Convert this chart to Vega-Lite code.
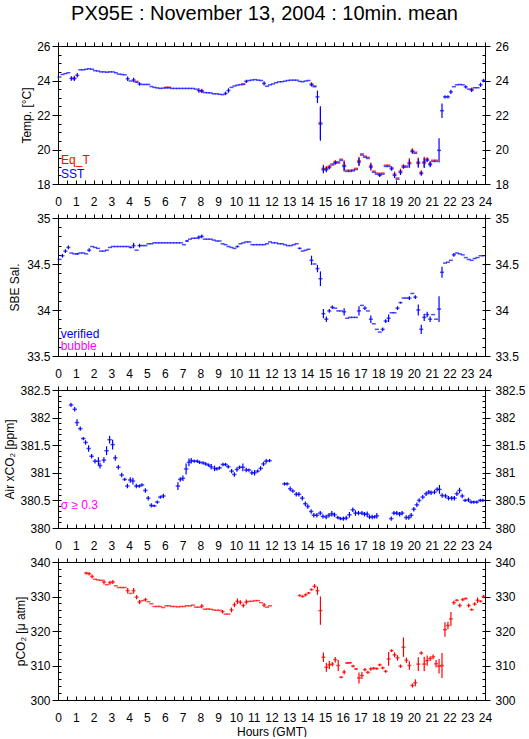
{
"$schema":"https://vega.github.io/schema/vega-lite/v6.json",
"padding":{"left":3,"top":4,"right":2,"bottom":0},
"title":{"text":"PX95E : November 13, 2004 : 10min. mean","font":"Liberation Sans","fontSize":20,"fontWeight":"normal","color":"black","anchor":"middle","offset":16},
"spacing":34,
"bounds":"flush",
"config":{"font":"Liberation Sans","view":{"stroke":null},
 "axis":{"grid":false,"domainColor":"black","tickColor":"black","labelColor":"black","titleColor":"black","labelFont":"Liberation Sans","titleFont":"Liberation Sans","labelFontSize":12,"titleFontSize":12,"titleFontWeight":"normal","labelFlush":false,"labelOverlap":false,"domainWidth":1,"tickWidth":1},
 "text":{"font":"Liberation Sans"}},
"datasets":{
"temp":[
{"t":0.083,"s":24.2,"e":0},{"t":0.25,"s":24.35,"e":0},{"t":0.417,"s":24.4,"e":0},{"t":0.583,"s":24.45,"e":0},
{"t":0.75,"s":24.12,"e":0.13},{"t":0.917,"s":24.1,"q":24.14,"e":0.13},{"t":1.083,"s":24.3,"e":0.13},{"t":1.25,"s":24.62,"e":0},
{"t":1.417,"s":24.62,"e":0},{"t":1.583,"s":24.65,"e":0},{"t":1.75,"s":24.68,"e":0},{"t":1.917,"s":24.65,"e":0},
{"t":2.083,"s":24.57,"e":0},{"t":2.25,"s":24.55,"e":0},{"t":2.417,"s":24.5,"e":0},{"t":2.583,"s":24.5,"e":0},
{"t":2.75,"s":24.48,"e":0},{"t":2.917,"s":24.5,"e":0},{"t":3.083,"s":24.5,"e":0},{"t":3.25,"s":24.45,"e":0},
{"t":3.417,"s":24.37,"e":0},{"t":3.583,"s":24.35,"e":0},{"t":3.75,"s":24.33,"e":0},{"t":3.917,"s":24.1,"e":0.13},
{"t":4.083,"s":23.97,"e":0},{"t":4.25,"s":24.03,"e":0.13},{"t":4.417,"s":23.9,"q":23.95,"e":0},{"t":4.583,"s":23.8,"e":0.1},
{"t":4.75,"s":23.77,"e":0},{"t":4.917,"s":23.77,"e":0},{"t":5.083,"s":23.77,"e":0},{"t":5.25,"s":23.65,"e":0},
{"t":5.417,"s":23.6,"e":0},{"t":5.583,"s":23.57,"e":0},{"t":5.75,"s":23.54,"e":0},{"t":5.917,"s":23.56,"e":0},
{"t":6.083,"s":23.57,"q":23.61,"e":0},{"t":6.25,"s":23.57,"q":23.61,"e":0},{"t":6.417,"s":23.54,"e":0},{"t":6.583,"s":23.54,"e":0},
{"t":6.75,"s":23.54,"e":0},{"t":6.917,"s":23.54,"e":0},{"t":7.083,"s":23.54,"e":0},{"t":7.25,"s":23.54,"e":0},
{"t":7.417,"s":23.54,"e":0},{"t":7.583,"s":23.54,"e":0},{"t":7.75,"s":23.5,"e":0},{"t":7.917,"s":23.42,"e":0.13},
{"t":8.083,"s":23.37,"q":23.42,"e":0.1},{"t":8.25,"s":23.3,"e":0},{"t":8.417,"s":23.29,"e":0},{"t":8.583,"s":23.28,"e":0},
{"t":8.75,"s":23.23,"e":0},{"t":8.917,"s":23.23,"e":0},{"t":9.083,"s":23.2,"e":0},{"t":9.25,"s":23.18,"e":0},
{"t":9.417,"s":23.25,"e":0.1},{"t":9.583,"s":23.42,"e":0.13},{"t":9.75,"s":23.6,"e":0},{"t":9.917,"s":23.68,"e":0},
{"t":10.083,"s":23.73,"e":0},{"t":10.25,"s":23.76,"e":0},{"t":10.417,"s":23.77,"q":23.81,"e":0},{"t":10.583,"s":23.95,"e":0.1},
{"t":10.75,"s":24.0,"e":0},{"t":10.917,"s":24.03,"e":0},{"t":11.083,"s":24.05,"e":0},{"t":11.25,"s":24.02,"e":0},
{"t":11.417,"s":24.0,"e":0},{"t":11.583,"s":23.83,"e":0.12},{"t":11.75,"s":23.67,"e":0},{"t":11.917,"s":23.75,"e":0},
{"t":12.083,"s":23.8,"e":0},{"t":12.25,"s":23.87,"e":0},{"t":12.417,"s":23.92,"e":0},{"t":12.583,"s":23.93,"e":0},
{"t":12.75,"s":23.96,"e":0},{"t":12.917,"s":24.0,"e":0},{"t":13.083,"s":24.02,"e":0},{"t":13.25,"s":24.02,"e":0},
{"t":13.417,"s":24.02,"e":0},{"t":13.583,"s":23.95,"e":0},{"t":13.75,"s":23.93,"e":0},{"t":13.917,"s":23.97,"e":0},
{"t":14.083,"s":24.0,"e":0},{"t":14.25,"s":23.75,"q":23.8,"e":0.1},{"t":14.417,"s":23.64,"q":23.69,"e":0},{"t":14.583,"s":23.05,"e":0.36},
{"t":14.75,"s":21.48,"q":21.55,"e":0.97},{"t":14.917,"s":18.83,"q":18.9,"e":0.21},{"t":15.083,"s":18.83,"q":18.9,"e":0.15},{"t":15.25,"s":18.95,"q":19.02,"e":0.1},
{"t":15.417,"s":19.1,"q":19.17,"e":0},{"t":15.583,"s":19.22,"q":19.29,"e":0.1},{"t":15.75,"s":19.22,"q":19.29,"e":0},{"t":15.917,"s":19.37,"q":19.44,"e":0},
{"t":16.083,"s":19.02,"q":19.09,"e":0.29},{"t":16.25,"s":18.73,"q":18.8,"e":0},{"t":16.417,"s":18.73,"q":18.8,"e":0},{"t":16.583,"s":18.76,"q":18.83,"e":0},
{"t":16.75,"s":18.84,"q":18.91,"e":0},{"t":16.917,"s":19.27,"q":19.34,"e":0.24},{"t":17.083,"s":19.68,"q":19.75,"e":0},{"t":17.25,"s":19.55,"q":19.62,"e":0},
{"t":17.417,"s":19.48,"q":19.55,"e":0},{"t":17.583,"s":18.98,"q":19.05,"e":0.2},{"t":17.75,"s":18.68,"q":18.75,"e":0},{"t":17.917,"s":18.57,"q":18.64,"e":0},
{"t":18.083,"s":18.5,"q":18.57,"e":0.1},{"t":18.25,"s":18.57,"q":18.64,"e":0},{"t":18.417,"s":19.02,"q":19.09,"e":0},{"t":18.583,"s":19.02,"q":19.09,"e":0},
{"t":18.75,"s":18.87,"q":18.94,"e":0.1},{"t":18.917,"s":18.5,"q":18.57,"e":0.15},{"t":19.083,"s":18.28,"q":18.35,"e":0},{"t":19.25,"s":18.67,"q":18.74,"e":0.15},
{"t":19.417,"s":18.98,"q":19.05,"e":0.1},{"t":19.583,"s":18.98,"q":19.05,"e":0},{"t":19.75,"s":19.18,"q":19.25,"e":0.24},{"t":19.917,"s":19.88,"q":19.95,"e":0.12},
{"t":20.083,"s":19.78,"q":19.85,"e":0},{"t":20.25,"s":19.2,"q":19.27,"e":0.26},{"t":20.417,"s":18.6,"q":18.67,"e":0.12},{"t":20.583,"s":19.22,"q":19.29,"e":0.29},
{"t":20.75,"s":19.38,"q":19.45,"e":0.1},{"t":20.917,"s":19.12,"q":19.19,"e":0.15},{"t":21.083,"s":19.31,"q":19.38,"e":0},{"t":21.25,"s":19.31,"q":19.38,"e":0},
{"t":21.417,"s":19.95,"e":0.7},{"t":21.583,"s":22.25,"e":0.42},{"t":21.75,"s":23.05,"e":0.1},{"t":21.917,"s":23.05,"e":0.1},
{"t":22.083,"s":23.34,"e":0.12},{"t":22.25,"s":23.64,"e":0},{"t":22.417,"s":23.75,"e":0},{"t":22.583,"s":23.77,"e":0},
{"t":22.75,"s":23.75,"e":0},{"t":22.917,"s":23.63,"e":0.1},{"t":23.083,"s":23.5,"e":0},{"t":23.25,"s":23.44,"q":23.5,"e":0.1},
{"t":23.417,"s":23.58,"e":0},{"t":23.583,"s":23.58,"e":0},{"t":23.75,"s":23.75,"e":0.12},{"t":23.917,"s":24.0,"e":0.1}
],
"sal":[
{"t":0.083,"v":34.55,"e":0},{"t":0.25,"v":34.59,"e":0.02},{"t":0.417,"v":34.64,"e":0.02},{"t":0.583,"v":34.68,"e":0.02},{"t":0.75,"v":34.62,"e":0},{"t":0.917,"v":34.61,"e":0},
{"t":1.083,"v":34.61,"e":0.01},{"t":1.25,"v":34.62,"e":0},{"t":1.417,"v":34.62,"e":0},{"t":1.583,"v":34.61,"e":0},{"t":1.75,"v":34.65,"e":0.02},{"t":1.917,"v":34.69,"e":0},
{"t":2.083,"v":34.68,"e":0},{"t":2.25,"v":34.67,"e":0},{"t":2.417,"v":34.64,"e":0},{"t":2.583,"v":34.64,"e":0},{"t":2.75,"v":34.65,"e":0},{"t":2.917,"v":34.68,"e":0},
{"t":3.083,"v":34.69,"e":0},{"t":3.25,"v":34.69,"e":0},{"t":3.417,"v":34.69,"e":0},{"t":3.583,"v":34.69,"e":0},{"t":3.75,"v":34.69,"e":0},{"t":3.917,"v":34.69,"e":0},
{"t":4.083,"v":34.68,"e":0.01},{"t":4.25,"v":34.7,"e":0.03},{"t":4.417,"v":34.65,"e":0},{"t":4.583,"v":34.7,"e":0.02},{"t":4.75,"v":34.7,"e":0},{"t":4.917,"v":34.7,"e":0},
{"t":5.083,"v":34.72,"e":0},{"t":5.25,"v":34.72,"e":0},{"t":5.417,"v":34.73,"e":0},{"t":5.583,"v":34.73,"e":0},{"t":5.75,"v":34.73,"e":0},{"t":5.917,"v":34.73,"e":0},
{"t":6.083,"v":34.73,"e":0},{"t":6.25,"v":34.73,"e":0},{"t":6.417,"v":34.73,"e":0},{"t":6.583,"v":34.73,"e":0},{"t":6.75,"v":34.73,"e":0},{"t":6.917,"v":34.73,"e":0},
{"t":7.083,"v":34.71,"e":0},{"t":7.25,"v":34.75,"e":0.01},{"t":7.417,"v":34.77,"e":0},{"t":7.583,"v":34.78,"e":0},{"t":7.75,"v":34.78,"e":0},{"t":7.917,"v":34.79,"e":0.02},
{"t":8.083,"v":34.8,"e":0.02},{"t":8.25,"v":34.77,"e":0},{"t":8.417,"v":34.77,"e":0},{"t":8.583,"v":34.77,"e":0},{"t":8.75,"v":34.76,"e":0},{"t":8.917,"v":34.75,"e":0},
{"t":9.083,"v":34.75,"e":0},{"t":9.25,"v":34.72,"e":0},{"t":9.417,"v":34.71,"e":0},{"t":9.583,"v":34.69,"e":0},{"t":9.75,"v":34.68,"e":0},{"t":9.917,"v":34.67,"e":0},
{"t":10.083,"v":34.69,"e":0.01},{"t":10.25,"v":34.72,"e":0},{"t":10.417,"v":34.73,"e":0},{"t":10.583,"v":34.74,"e":0},{"t":10.75,"v":34.74,"e":0},{"t":10.917,"v":34.71,"e":0},
{"t":11.083,"v":34.71,"e":0},{"t":11.25,"v":34.71,"e":0},{"t":11.417,"v":34.71,"e":0},{"t":11.583,"v":34.71,"e":0},{"t":11.75,"v":34.72,"e":0},{"t":11.917,"v":34.74,"e":0},
{"t":12.083,"v":34.73,"e":0},{"t":12.25,"v":34.73,"e":0},{"t":12.417,"v":34.72,"e":0},{"t":12.583,"v":34.72,"e":0},{"t":12.75,"v":34.71,"e":0},{"t":12.917,"v":34.7,"e":0},
{"t":13.083,"v":34.7,"e":0},{"t":13.25,"v":34.71,"e":0},{"t":13.417,"v":34.72,"e":0},{"t":13.583,"v":34.67,"e":0.01},{"t":13.75,"v":34.64,"e":0},{"t":13.917,"v":34.65,"e":0},
{"t":14.083,"v":34.66,"e":0},{"t":14.25,"v":34.54,"e":0.05},{"t":14.417,"v":34.5,"e":0},{"t":14.583,"v":34.45,"e":0.04},{"t":14.75,"v":34.34,"e":0.08},{"t":14.917,"v":33.96,"e":0.05},
{"t":15.083,"v":33.9,"e":0.03},{"t":15.25,"v":33.99,"e":0.02},{"t":15.417,"v":34.03,"e":0.02},{"t":15.583,"v":34.02,"e":0},{"t":15.75,"v":33.99,"e":0},{"t":15.917,"v":33.99,"e":0},
{"t":16.083,"v":33.98,"e":0.04},{"t":16.25,"v":33.91,"e":0},{"t":16.417,"v":33.92,"e":0},{"t":16.583,"v":33.92,"e":0},{"t":16.75,"v":33.92,"e":0},{"t":16.917,"v":33.99,"e":0.05},
{"t":17.083,"v":34.05,"e":0},{"t":17.25,"v":34.02,"e":0.02},{"t":17.417,"v":33.99,"e":0},{"t":17.583,"v":33.9,"e":0.04},{"t":17.75,"v":33.85,"e":0},{"t":17.917,"v":33.79,"e":0},
{"t":18.083,"v":33.76,"e":0},{"t":18.25,"v":33.79,"e":0.02},{"t":18.417,"v":33.88,"e":0.02},{"t":18.583,"v":33.91,"e":0.04},{"t":18.75,"v":33.97,"e":0},{"t":18.917,"v":33.97,"e":0},
{"t":19.083,"v":34.02,"e":0.02},{"t":19.25,"v":34.08,"e":0.01},{"t":19.417,"v":34.13,"e":0},{"t":19.583,"v":34.13,"e":0},{"t":19.75,"v":34.13,"e":0.02},{"t":19.917,"v":34.18,"e":0},
{"t":20.083,"v":34.14,"e":0.02},{"t":20.25,"v":34.0,"e":0.06},{"t":20.417,"v":33.79,"e":0.05},{"t":20.583,"v":33.92,"e":0.04},{"t":20.75,"v":33.95,"e":0.03},{"t":20.917,"v":33.9,"e":0.03},
{"t":21.083,"v":33.95,"e":0},{"t":21.25,"v":33.9,"e":0},{"t":21.417,"v":34.01,"e":0.14},{"t":21.583,"v":34.41,"e":0.06},{"t":21.75,"v":34.51,"e":0},{"t":21.917,"v":34.52,"e":0},
{"t":22.083,"v":34.54,"e":0},{"t":22.25,"v":34.6,"e":0.02},{"t":22.417,"v":34.62,"e":0},{"t":22.583,"v":34.61,"e":0},{"t":22.75,"v":34.6,"e":0},{"t":22.917,"v":34.57,"e":0},
{"t":23.083,"v":34.55,"e":0},{"t":23.25,"v":34.54,"e":0},{"t":23.417,"v":34.56,"e":0},{"t":23.583,"v":34.57,"e":0},{"t":23.75,"v":34.59,"e":0},{"t":23.917,"v":34.59,"e":0}
],
"air":[
{"t":0.73,"v":382.23,"e":0.04},{"t":0.94,"v":382.15,"e":0.04},{"t":1.07,"v":381.91,"e":0.06},{"t":1.25,"v":381.8,"e":0.04},{"t":1.42,"v":381.62,"e":0.03},{"t":1.55,"v":381.55,"e":0.04},
{"t":1.72,"v":381.44,"e":0.06},{"t":1.89,"v":381.3,"e":0.04},{"t":2.08,"v":381.21,"e":0.04},{"t":2.27,"v":381.21,"e":0.07},{"t":2.36,"v":381.13,"e":0.05},{"t":2.58,"v":381.23,"e":0.05},
{"t":2.73,"v":381.4,"e":0.08},{"t":2.9,"v":381.6,"e":0.07},{"t":3.07,"v":381.51,"e":0.09},{"t":3.22,"v":381.27,"e":0.05},{"t":3.39,"v":381.1,"e":0.04},{"t":3.58,"v":380.96,"e":0.04},
{"t":3.75,"v":380.88,"e":0.03},{"t":3.9,"v":380.76,"e":0.04},{"t":4.06,"v":380.87,"e":0.05},{"t":4.21,"v":380.85,"e":0.06},{"t":4.4,"v":380.76,"e":0.04},{"t":4.57,"v":380.76,"e":0.03},
{"t":4.72,"v":380.78,"e":0.03},{"t":4.91,"v":380.68,"e":0.04},{"t":5.07,"v":380.54,"e":0.04},{"t":5.24,"v":380.41,"e":0.04},{"t":5.41,"v":380.4,"e":0.02},{"t":5.58,"v":380.47,"e":0.03},
{"t":5.75,"v":380.56,"e":0.03},{"t":5.92,"v":380.58,"e":0.04},{"t":6.74,"v":380.76,"e":0.07},{"t":6.87,"v":380.88,"e":0.04},{"t":7.02,"v":380.9,"e":0.05},{"t":7.2,"v":381.07,"e":0.1},
{"t":7.36,"v":381.19,"e":0.07},{"t":7.49,"v":381.22,"e":0.05},{"t":7.66,"v":381.21,"e":0.03},{"t":7.83,"v":381.21,"e":0.03},{"t":7.96,"v":381.19,"e":0.03},{"t":8.15,"v":381.18,"e":0.03},
{"t":8.3,"v":381.16,"e":0.03},{"t":8.46,"v":381.14,"e":0.03},{"t":8.61,"v":381.11,"e":0.05},{"t":8.8,"v":381.08,"e":0.05},{"t":8.93,"v":381.07,"e":0.03},{"t":9.08,"v":381.09,"e":0.03},
{"t":9.27,"v":381.15,"e":0.03},{"t":9.42,"v":381.15,"e":0.03},{"t":9.57,"v":381.11,"e":0.03},{"t":9.76,"v":381.03,"e":0.04},{"t":9.91,"v":380.97,"e":0.04},{"t":10.06,"v":381.06,"e":0.04},
{"t":10.21,"v":381.1,"e":0.03},{"t":10.39,"v":381.1,"e":0.07},{"t":10.58,"v":381.05,"e":0.04},{"t":10.73,"v":381.05,"e":0.03},{"t":10.9,"v":381.0,"e":0.04},{"t":11.05,"v":381.0,"e":0.05},
{"t":11.22,"v":381.03,"e":0.03},{"t":11.39,"v":381.08,"e":0.04},{"t":11.55,"v":381.16,"e":0.04},{"t":11.7,"v":381.21,"e":0.04},{"t":11.89,"v":381.22,"e":0.03},
{"t":12.73,"v":380.8,"e":0.03},{"t":12.88,"v":380.8,"e":0.03},{"t":13.05,"v":380.71,"e":0.04},{"t":13.2,"v":380.67,"e":0.03},{"t":13.39,"v":380.61,"e":0.04},{"t":13.54,"v":380.61,"e":0.04},
{"t":13.73,"v":380.54,"e":0.04},{"t":13.9,"v":380.44,"e":0.04},{"t":14.04,"v":380.39,"e":0.04},{"t":14.23,"v":380.3,"e":0.04},{"t":14.38,"v":380.23,"e":0.04},{"t":14.55,"v":380.23,"e":0.04},
{"t":14.74,"v":380.27,"e":0.04},{"t":14.89,"v":380.21,"e":0.04},{"t":15.07,"v":380.2,"e":0.04},{"t":15.23,"v":380.23,"e":0.04},{"t":15.39,"v":380.26,"e":0.05},{"t":15.54,"v":380.24,"e":0.04},
{"t":15.73,"v":380.19,"e":0.03},{"t":15.88,"v":380.17,"e":0.03},{"t":16.04,"v":380.17,"e":0.04},{"t":16.2,"v":380.18,"e":0.04},{"t":16.38,"v":380.24,"e":0.05},{"t":16.57,"v":380.33,"e":0.04},
{"t":16.72,"v":380.27,"e":0.05},{"t":16.89,"v":380.27,"e":0.04},{"t":17.08,"v":380.27,"e":0.04},{"t":17.23,"v":380.25,"e":0.04},{"t":17.38,"v":380.25,"e":0.05},{"t":17.51,"v":380.2,"e":0.04},
{"t":17.66,"v":380.2,"e":0.04},{"t":17.79,"v":380.2,"e":0.03},{"t":17.92,"v":380.22,"e":0.05},
{"t":18.73,"v":380.17,"e":0.04},{"t":18.88,"v":380.27,"e":0.04},{"t":19.04,"v":380.27,"e":0.04},{"t":19.2,"v":380.25,"e":0.04},{"t":19.34,"v":380.27,"e":0.04},{"t":19.57,"v":380.19,"e":0.04},
{"t":19.72,"v":380.19,"e":0.04},{"t":19.85,"v":380.23,"e":0.04},{"t":20.0,"v":380.34,"e":0.04},{"t":20.17,"v":380.42,"e":0.04},{"t":20.3,"v":380.5,"e":0.04},{"t":20.5,"v":380.56,"e":0.04},
{"t":20.69,"v":380.62,"e":0.04},{"t":20.84,"v":380.65,"e":0.04},{"t":20.97,"v":380.64,"e":0.04},{"t":21.16,"v":380.65,"e":0.04},{"t":21.31,"v":380.7,"e":0.04},{"t":21.44,"v":380.7,"e":0.08},
{"t":21.59,"v":380.59,"e":0.04},{"t":21.78,"v":380.58,"e":0.04},{"t":21.95,"v":380.54,"e":0.04},{"t":22.13,"v":380.54,"e":0.04},{"t":22.28,"v":380.54,"e":0.04},{"t":22.42,"v":380.62,"e":0.04},
{"t":22.57,"v":380.68,"e":0.05},{"t":22.72,"v":380.58,"e":0.04},{"t":22.88,"v":380.5,"e":0.03},{"t":23.07,"v":380.51,"e":0.04},{"t":23.22,"v":380.47,"e":0.03},{"t":23.37,"v":380.47,"e":0.03},
{"t":23.54,"v":380.47,"e":0.03},{"t":23.73,"v":380.5,"e":0.03},{"t":23.88,"v":380.5,"e":0.03}
],
"pco2":[
{"t":1.583,"v":336.8,"e":0.4},{"t":1.75,"v":336.6,"e":0.5},{"t":1.917,"v":335.8,"e":0.6},{"t":2.083,"v":335.0,"e":0},{"t":2.25,"v":334.8,"e":0},{"t":2.417,"v":334.7,"e":0},
{"t":2.583,"v":334.2,"e":0.7},{"t":2.75,"v":333.4,"e":0},{"t":2.917,"v":334.0,"e":0.6},{"t":3.083,"v":334.2,"e":0.6},{"t":3.25,"v":333.1,"e":0},{"t":3.417,"v":332.6,"e":0},
{"t":3.583,"v":332.6,"e":0},{"t":3.75,"v":332.6,"e":0},{"t":3.917,"v":331.7,"e":0.8},{"t":4.083,"v":330.9,"e":0},{"t":4.25,"v":331.7,"e":0.8},{"t":4.417,"v":329.8,"e":0.6},
{"t":4.583,"v":328.4,"e":0.6},{"t":4.75,"v":328.8,"e":0},{"t":4.917,"v":329.1,"e":0.5},{"t":5.083,"v":328.5,"e":0},{"t":5.25,"v":327.9,"e":0},{"t":5.417,"v":327.1,"e":0},
{"t":5.583,"v":327.1,"e":0},{"t":5.75,"v":327.1,"e":0},{"t":5.917,"v":326.8,"e":0},{"t":6.083,"v":327.3,"e":0},{"t":6.25,"v":327.3,"e":0},{"t":6.417,"v":327.1,"e":0},
{"t":6.583,"v":327.1,"e":0},{"t":6.75,"v":327.0,"e":0},{"t":6.917,"v":327.1,"e":0},{"t":7.083,"v":327.1,"e":0},{"t":7.25,"v":327.3,"e":0},{"t":7.417,"v":327.3,"e":0},
{"t":7.583,"v":327.5,"e":0},{"t":7.75,"v":326.9,"e":0},{"t":7.917,"v":326.9,"e":0},{"t":8.083,"v":327.2,"e":0.6},{"t":8.25,"v":326.3,"e":0},{"t":8.417,"v":326.4,"e":0},
{"t":8.583,"v":326.3,"e":0},{"t":8.75,"v":326.1,"e":0},{"t":8.917,"v":326.0,"e":0},{"t":9.083,"v":326.0,"e":0},{"t":9.25,"v":325.6,"e":0.5},{"t":9.417,"v":324.9,"e":0},
{"t":9.583,"v":324.9,"e":0},{"t":9.75,"v":326.1,"e":0.7},{"t":9.917,"v":327.6,"e":0.7},{"t":10.083,"v":328.6,"e":0.8},{"t":10.25,"v":328.3,"e":0.6},{"t":10.417,"v":327.4,"e":0.6},
{"t":10.583,"v":328.4,"e":0.7},{"t":10.75,"v":328.6,"e":0},{"t":10.917,"v":328.6,"e":0},{"t":11.083,"v":328.8,"e":0},{"t":11.25,"v":328.8,"e":0},{"t":11.417,"v":328.2,"e":0},
{"t":11.583,"v":327.5,"e":0.6},{"t":11.75,"v":326.9,"e":0},{"t":11.917,"v":327.3,"e":0},
{"t":13.583,"v":330.3,"e":0.3},{"t":13.75,"v":330.0,"e":0.3},{"t":13.917,"v":330.5,"e":0.4},{"t":14.083,"v":331.0,"e":0.3},{"t":14.25,"v":332.0,"e":0.3},{"t":14.417,"v":333.0,"e":0.6},
{"t":14.583,"v":331.7,"e":1.2},{"t":14.75,"v":325.9,"e":4.1},{"t":14.917,"v":312.4,"e":1.4},{"t":15.083,"v":309.5,"e":1.3},{"t":15.25,"v":310.2,"e":1.2},{"t":15.417,"v":310.4,"e":0.6},
{"t":15.583,"v":311.7,"e":0.8},{"t":15.75,"v":310.0,"e":1.6},{"t":15.917,"v":306.6,"e":0.3},{"t":16.083,"v":308.1,"e":0.7},{"t":16.25,"v":310.7,"e":0.3},{"t":16.417,"v":310.8,"e":0.3},
{"t":16.583,"v":309.8,"e":0.4},{"t":16.75,"v":309.0,"e":0.3},{"t":16.917,"v":306.4,"e":1.6},{"t":17.083,"v":307.1,"e":1.0},{"t":17.25,"v":308.8,"e":0.5},{"t":17.417,"v":308.0,"e":0.4},
{"t":17.583,"v":309.0,"e":0.5},{"t":17.75,"v":309.2,"e":0.4},{"t":17.917,"v":309.1,"e":0.3},{"t":18.083,"v":310.2,"e":0.4},{"t":18.25,"v":309.3,"e":0.4},{"t":18.417,"v":308.3,"e":0.4},
{"t":18.583,"v":311.9,"e":2.0},{"t":18.75,"v":314.3,"e":0.4},{"t":18.917,"v":313.1,"e":0.7},{"t":19.083,"v":312.2,"e":0.8},{"t":19.25,"v":309.8,"e":0.5},{"t":19.417,"v":315.3,"e":2.8},
{"t":19.583,"v":311.5,"e":0.8},{"t":19.75,"v":310.0,"e":1.2},{"t":19.917,"v":304.2,"e":0.6},{"t":20.083,"v":305.0,"e":1.0},{"t":20.25,"v":310.4,"e":2.0},{"t":20.417,"v":313.6,"e":0.5},
{"t":20.583,"v":310.4,"e":2.1},{"t":20.75,"v":311.4,"e":1.5},{"t":20.917,"v":312.0,"e":0.7},{"t":21.083,"v":312.5,"e":0.7},{"t":21.25,"v":310.5,"e":1.1},{"t":21.417,"v":309.8,"e":2.1},
{"t":21.583,"v":310.0,"e":3.6},{"t":21.75,"v":320.4,"e":2.1},{"t":21.917,"v":321.6,"e":1.1},{"t":22.083,"v":323.5,"e":2.0},{"t":22.25,"v":328.2,"e":0.6},{"t":22.417,"v":328.9,"e":0.3},
{"t":22.583,"v":327.4,"e":0.6},{"t":22.75,"v":329.1,"e":0.5},{"t":22.917,"v":329.4,"e":0.3},{"t":23.083,"v":327.4,"e":0.6},{"t":23.25,"v":326.2,"e":0.3},{"t":23.417,"v":327.8,"e":0.5},
{"t":23.583,"v":328.9,"e":0.8},{"t":23.75,"v":328.6,"e":0.3},{"t":23.917,"v":330.0,"e":0.5}
]
},
"vconcat":[
{"width":427,"height":138,"data":{"name":"temp"},
 "resolve":{"axis":{"x":"independent","y":"independent"}},
 "layer":[
  {"mark":{"type":"point","opacity":0},"encoding":{
   "x":{"field":"t","type":"quantitative","scale":{"domain":[0,24]},"axis":{"orient":"bottom","values":[0,1,2,3,4,5,6,7,8,9,10,11,12,13,14,15,16,17,18,19,20,21,22,23,24],"format":"d","ticks":false,"labelPadding":12,"title":null}},
   "y":{"field":"s","type":"quantitative","scale":{"domain":[18,26]},"axis":{"orient":"left","values":[18,20,22,24,26],"labelExpr":"datum.value + ''","tickSize":6,"labelPadding":2,"title":"Temp. [°C]","titlePadding":3}}}},
  {"mark":{"type":"point","opacity":0},"encoding":{
   "x":{"field":"t","type":"quantitative","scale":{"domain":[0,24]},"axis":{"orient":"bottom","values":[0,0.5,1,1.5,2,2.5,3,3.5,4,4.5,5,5.5,6,6.5,7,7.5,8,8.5,9,9.5,10,10.5,11,11.5,12,12.5,13,13.5,14,14.5,15,15.5,16,16.5,17,17.5,18,18.5,19,19.5,20,20.5,21,21.5,22,22.5,23,23.5,24],"tickSize":-4,"labels":false,"domain":false,"title":null}},
   "y":{"field":"s","type":"quantitative","scale":{"domain":[18,26]},"axis":{"orient":"left","values":[18,18.5,19,19.5,20,20.5,21,21.5,22,22.5,23,23.5,24,24.5,25,25.5,26],"tickSize":-3,"labels":false,"domain":false,"title":null}}}},
  {"mark":{"type":"point","opacity":0},"encoding":{
   "x":{"field":"t","type":"quantitative","scale":{"domain":[0,24]},"axis":{"orient":"top","values":[0,0.5,1,1.5,2,2.5,3,3.5,4,4.5,5,5.5,6,6.5,7,7.5,8,8.5,9,9.5,10,10.5,11,11.5,12,12.5,13,13.5,14,14.5,15,15.5,16,16.5,17,17.5,18,18.5,19,19.5,20,20.5,21,21.5,22,22.5,23,23.5,24],"tickSize":4,"labels":false,"title":null}},
   "y":{"field":"s","type":"quantitative","scale":{"domain":[18,26]},"axis":{"orient":"right","values":[18,20,22,24,26],"labelExpr":"datum.value + ''","tickSize":5,"labelPadding":5,"title":null}}}},
  {"mark":{"type":"point","opacity":0},"encoding":{
   "x":{"field":"t","type":"quantitative","scale":{"domain":[0,24]},"axis":null},
   "y":{"field":"s","type":"quantitative","scale":{"domain":[18,26]},"axis":{"orient":"right","values":[18,18.5,19,19.5,20,20.5,21,21.5,22,22.5,23,23.5,24,24.5,25,25.5,26],"tickSize":-3,"labels":false,"domain":false,"title":null}}}},
  {"mark":{"type":"errorbar","color":"#ff0000","thickness":1.2},"encoding":{
   "x":{"field":"t","type":"quantitative","scale":{"domain":[0,24]},"axis":null},
   "y":{"field":"q","type":"quantitative","scale":{"domain":[18,26]},"axis":null},"yError":{"field":"e"}}},
  {"mark":{"type":"tick","orient":"horizontal","color":"#ff0000","size":4,"thickness":1.5},"encoding":{
   "x":{"field":"t","type":"quantitative","scale":{"domain":[0,24]},"axis":null},
   "y":{"field":"q","type":"quantitative","scale":{"domain":[18,26]},"axis":null}}},
  {"mark":{"type":"errorbar","color":"#0000ff","thickness":1.2},"encoding":{
   "x":{"field":"t","type":"quantitative","scale":{"domain":[0,24]},"axis":null},
   "y":{"field":"s","type":"quantitative","scale":{"domain":[18,26]},"axis":null},"yError":{"field":"e"}}},
  {"mark":{"type":"tick","orient":"horizontal","color":"#0000ff","size":4,"thickness":1.5},"encoding":{
   "x":{"field":"t","type":"quantitative","scale":{"domain":[0,24]},"axis":null},
   "y":{"field":"s","type":"quantitative","scale":{"domain":[18,26]},"axis":null}}},
  {"data":{"values":[{}]},"mark":{"type":"text","align":"left","baseline":"alphabetic","color":"#ff0000","fontSize":12},"encoding":{
   "x":{"datum":0.17,"type":"quantitative","scale":{"domain":[0,24]},"axis":null},
   "y":{"datum":19.14,"type":"quantitative","scale":{"domain":[18,26]},"axis":null},"text":{"value":"Eq_T"}}},
  {"data":{"values":[{}]},"mark":{"type":"text","align":"left","baseline":"alphabetic","color":"#0000ff","fontSize":12},"encoding":{
   "x":{"datum":0.17,"type":"quantitative","scale":{"domain":[0,24]},"axis":null},
   "y":{"datum":18.33,"type":"quantitative","scale":{"domain":[18,26]},"axis":null},"text":{"value":"SST"}}}
 ]},
{"width":427,"height":138,"data":{"name":"sal"},
 "resolve":{"axis":{"x":"independent","y":"independent"}},
 "layer":[
  {"mark":{"type":"point","opacity":0},"encoding":{
   "x":{"field":"t","type":"quantitative","scale":{"domain":[0,24]},"axis":{"orient":"bottom","values":[0,1,2,3,4,5,6,7,8,9,10,11,12,13,14,15,16,17,18,19,20,21,22,23,24],"format":"d","ticks":false,"labelPadding":12,"title":null}},
   "y":{"field":"v","type":"quantitative","scale":{"domain":[33.5,35]},"axis":{"orient":"left","values":[33.5,34,34.5,35],"labelExpr":"datum.value + ''","tickSize":6,"labelPadding":2,"title":"SBE Sal.","titlePadding":5}}}},
  {"mark":{"type":"point","opacity":0},"encoding":{
   "x":{"field":"t","type":"quantitative","scale":{"domain":[0,24]},"axis":{"orient":"bottom","values":[0,0.5,1,1.5,2,2.5,3,3.5,4,4.5,5,5.5,6,6.5,7,7.5,8,8.5,9,9.5,10,10.5,11,11.5,12,12.5,13,13.5,14,14.5,15,15.5,16,16.5,17,17.5,18,18.5,19,19.5,20,20.5,21,21.5,22,22.5,23,23.5,24],"tickSize":-4,"labels":false,"domain":false,"title":null}},
   "y":{"field":"v","type":"quantitative","scale":{"domain":[33.5,35]},"axis":{"orient":"left","values":[33.5,33.6,33.7,33.8,33.9,34,34.1,34.2,34.3,34.4,34.5,34.6,34.7,34.8,34.9,35],"tickSize":-3,"labels":false,"domain":false,"title":null}}}},
  {"mark":{"type":"point","opacity":0},"encoding":{
   "x":{"field":"t","type":"quantitative","scale":{"domain":[0,24]},"axis":{"orient":"top","values":[0,0.5,1,1.5,2,2.5,3,3.5,4,4.5,5,5.5,6,6.5,7,7.5,8,8.5,9,9.5,10,10.5,11,11.5,12,12.5,13,13.5,14,14.5,15,15.5,16,16.5,17,17.5,18,18.5,19,19.5,20,20.5,21,21.5,22,22.5,23,23.5,24],"tickSize":4,"labels":false,"title":null}},
   "y":{"field":"v","type":"quantitative","scale":{"domain":[33.5,35]},"axis":{"orient":"right","values":[33.5,34,34.5,35],"labelExpr":"datum.value + ''","tickSize":5,"labelPadding":5,"title":null}}}},
  {"mark":{"type":"point","opacity":0},"encoding":{
   "x":{"field":"t","type":"quantitative","scale":{"domain":[0,24]},"axis":null},
   "y":{"field":"v","type":"quantitative","scale":{"domain":[33.5,35]},"axis":{"orient":"right","values":[33.5,33.6,33.7,33.8,33.9,34,34.1,34.2,34.3,34.4,34.5,34.6,34.7,34.8,34.9,35],"tickSize":-3,"labels":false,"domain":false,"title":null}}}},
  {"mark":{"type":"errorbar","color":"#0000ff","thickness":1.2},"encoding":{
   "x":{"field":"t","type":"quantitative","scale":{"domain":[0,24]},"axis":null},
   "y":{"field":"v","type":"quantitative","scale":{"domain":[33.5,35]},"axis":null},"yError":{"field":"e"}}},
  {"mark":{"type":"tick","orient":"horizontal","color":"#0000ff","size":4,"thickness":1.5},"encoding":{
   "x":{"field":"t","type":"quantitative","scale":{"domain":[0,24]},"axis":null},
   "y":{"field":"v","type":"quantitative","scale":{"domain":[33.5,35]},"axis":null}}},
  {"data":{"values":[{}]},"mark":{"type":"text","align":"left","baseline":"alphabetic","color":"#0000ff","fontSize":12},"encoding":{
   "x":{"datum":0.15,"type":"quantitative","scale":{"domain":[0,24]},"axis":null},
   "y":{"datum":33.7,"type":"quantitative","scale":{"domain":[33.5,35]},"axis":null},"text":{"value":"verified"}}},
  {"data":{"values":[{}]},"mark":{"type":"text","align":"left","baseline":"alphabetic","color":"#ff00ff","fontSize":12},"encoding":{
   "x":{"datum":0.15,"type":"quantitative","scale":{"domain":[0,24]},"axis":null},
   "y":{"datum":33.565,"type":"quantitative","scale":{"domain":[33.5,35]},"axis":null},"text":{"value":"bubble"}}}
 ]},
{"width":427,"height":138,"data":{"name":"air"},
 "resolve":{"axis":{"x":"independent","y":"independent"}},
 "layer":[
  {"mark":{"type":"point","opacity":0},"encoding":{
   "x":{"field":"t","type":"quantitative","scale":{"domain":[0,24]},"axis":{"orient":"bottom","values":[0,1,2,3,4,5,6,7,8,9,10,11,12,13,14,15,16,17,18,19,20,21,22,23,24],"format":"d","ticks":false,"labelPadding":12,"title":null}},
   "y":{"field":"v","type":"quantitative","scale":{"domain":[380,382.5]},"axis":{"orient":"left","values":[380,380.5,381,381.5,382,382.5],"labelExpr":"datum.value + ''","tickSize":6,"labelPadding":2,"title":"Air xCO₂ [ppm]","titlePadding":3}}}},
  {"mark":{"type":"point","opacity":0},"encoding":{
   "x":{"field":"t","type":"quantitative","scale":{"domain":[0,24]},"axis":{"orient":"bottom","values":[0,0.5,1,1.5,2,2.5,3,3.5,4,4.5,5,5.5,6,6.5,7,7.5,8,8.5,9,9.5,10,10.5,11,11.5,12,12.5,13,13.5,14,14.5,15,15.5,16,16.5,17,17.5,18,18.5,19,19.5,20,20.5,21,21.5,22,22.5,23,23.5,24],"tickSize":-4,"labels":false,"domain":false,"title":null}},
   "y":{"field":"v","type":"quantitative","scale":{"domain":[380,382.5]},"axis":{"orient":"left","values":[380,380.1,380.2,380.3,380.4,380.5,380.6,380.7,380.8,380.9,381,381.1,381.2,381.3,381.4,381.5,381.6,381.7,381.8,381.9,382,382.1,382.2,382.3,382.4,382.5],"tickSize":-3,"labels":false,"domain":false,"title":null}}}},
  {"mark":{"type":"point","opacity":0},"encoding":{
   "x":{"field":"t","type":"quantitative","scale":{"domain":[0,24]},"axis":{"orient":"top","values":[0,0.5,1,1.5,2,2.5,3,3.5,4,4.5,5,5.5,6,6.5,7,7.5,8,8.5,9,9.5,10,10.5,11,11.5,12,12.5,13,13.5,14,14.5,15,15.5,16,16.5,17,17.5,18,18.5,19,19.5,20,20.5,21,21.5,22,22.5,23,23.5,24],"tickSize":4,"labels":false,"title":null}},
   "y":{"field":"v","type":"quantitative","scale":{"domain":[380,382.5]},"axis":{"orient":"right","values":[380,380.5,381,381.5,382,382.5],"labelExpr":"datum.value + ''","tickSize":5,"labelPadding":5,"title":null}}}},
  {"mark":{"type":"point","opacity":0},"encoding":{
   "x":{"field":"t","type":"quantitative","scale":{"domain":[0,24]},"axis":null},
   "y":{"field":"v","type":"quantitative","scale":{"domain":[380,382.5]},"axis":{"orient":"right","values":[380,380.1,380.2,380.3,380.4,380.5,380.6,380.7,380.8,380.9,381,381.1,381.2,381.3,381.4,381.5,381.6,381.7,381.8,381.9,382,382.1,382.2,382.3,382.4,382.5],"tickSize":-3,"labels":false,"domain":false,"title":null}}}},
  {"mark":{"type":"errorbar","color":"#0000ff","thickness":1.2},"encoding":{
   "x":{"field":"t","type":"quantitative","scale":{"domain":[0,24]},"axis":null},
   "y":{"field":"v","type":"quantitative","scale":{"domain":[380,382.5]},"axis":null},"yError":{"field":"e"}}},
  {"mark":{"type":"tick","orient":"horizontal","color":"#0000ff","size":4.5,"thickness":1.5},"encoding":{
   "x":{"field":"t","type":"quantitative","scale":{"domain":[0,24]},"axis":null},
   "y":{"field":"v","type":"quantitative","scale":{"domain":[380,382.5]},"axis":null}}},
  {"data":{"values":[{}]},"mark":{"type":"text","align":"left","baseline":"alphabetic","color":"#ff00ff","fontSize":12},"encoding":{
   "x":{"datum":0.15,"type":"quantitative","scale":{"domain":[0,24]},"axis":null},
   "y":{"datum":380.34,"type":"quantitative","scale":{"domain":[380,382.5]},"axis":null},"text":{"value":"σ ≥ 0.3"}}}
 ]},
{"width":427,"height":138,"data":{"name":"pco2"},
 "resolve":{"axis":{"x":"independent","y":"independent"}},
 "layer":[
  {"mark":{"type":"point","opacity":0},"encoding":{
   "x":{"field":"t","type":"quantitative","scale":{"domain":[0,24]},"axis":{"orient":"bottom","values":[0,1,2,3,4,5,6,7,8,9,10,11,12,13,14,15,16,17,18,19,20,21,22,23,24],"format":"d","ticks":false,"labelPadding":12,"title":"Hours (GMT)","titlePadding":3}},
   "y":{"field":"v","type":"quantitative","scale":{"domain":[300,340]},"axis":{"orient":"left","values":[300,310,320,330,340],"labelExpr":"datum.value + ''","tickSize":6,"labelPadding":2,"title":"pCO₂ [μ atm]","titlePadding":2}}}},
  {"mark":{"type":"point","opacity":0},"encoding":{
   "x":{"field":"t","type":"quantitative","scale":{"domain":[0,24]},"axis":{"orient":"bottom","values":[0,0.5,1,1.5,2,2.5,3,3.5,4,4.5,5,5.5,6,6.5,7,7.5,8,8.5,9,9.5,10,10.5,11,11.5,12,12.5,13,13.5,14,14.5,15,15.5,16,16.5,17,17.5,18,18.5,19,19.5,20,20.5,21,21.5,22,22.5,23,23.5,24],"tickSize":-4,"labels":false,"domain":false,"title":null}},
   "y":{"field":"v","type":"quantitative","scale":{"domain":[300,340]},"axis":{"orient":"left","values":[300,302,304,306,308,310,312,314,316,318,320,322,324,326,328,330,332,334,336,338,340],"tickSize":-3,"labels":false,"domain":false,"title":null}}}},
  {"mark":{"type":"point","opacity":0},"encoding":{
   "x":{"field":"t","type":"quantitative","scale":{"domain":[0,24]},"axis":{"orient":"top","values":[0,0.5,1,1.5,2,2.5,3,3.5,4,4.5,5,5.5,6,6.5,7,7.5,8,8.5,9,9.5,10,10.5,11,11.5,12,12.5,13,13.5,14,14.5,15,15.5,16,16.5,17,17.5,18,18.5,19,19.5,20,20.5,21,21.5,22,22.5,23,23.5,24],"tickSize":4,"labels":false,"title":null}},
   "y":{"field":"v","type":"quantitative","scale":{"domain":[300,340]},"axis":{"orient":"right","values":[300,310,320,330,340],"labelExpr":"datum.value + ''","tickSize":5,"labelPadding":5,"title":null}}}},
  {"mark":{"type":"point","opacity":0},"encoding":{
   "x":{"field":"t","type":"quantitative","scale":{"domain":[0,24]},"axis":null},
   "y":{"field":"v","type":"quantitative","scale":{"domain":[300,340]},"axis":{"orient":"right","values":[300,302,304,306,308,310,312,314,316,318,320,322,324,326,328,330,332,334,336,338,340],"tickSize":-3,"labels":false,"domain":false,"title":null}}}},
  {"mark":{"type":"errorbar","color":"#ff0000","thickness":1.2},"encoding":{
   "x":{"field":"t","type":"quantitative","scale":{"domain":[0,24]},"axis":null},
   "y":{"field":"v","type":"quantitative","scale":{"domain":[300,340]},"axis":null},"yError":{"field":"e"}}},
  {"mark":{"type":"tick","orient":"horizontal","color":"#ff0000","size":4,"thickness":1.5},"encoding":{
   "x":{"field":"t","type":"quantitative","scale":{"domain":[0,24]},"axis":null},
   "y":{"field":"v","type":"quantitative","scale":{"domain":[300,340]},"axis":null}}}
 ]}
]
}
